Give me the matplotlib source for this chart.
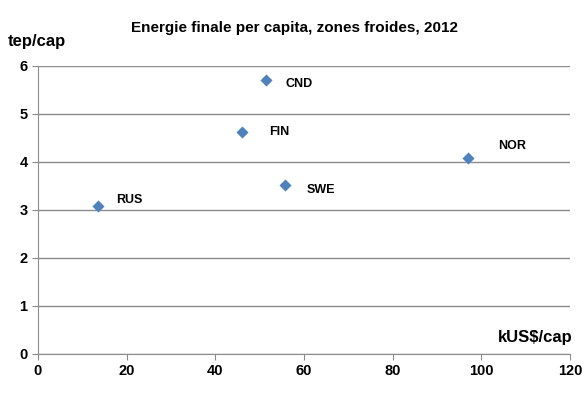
import matplotlib
matplotlib.use("Agg")
import matplotlib.pyplot as plt

plt.rcParams['font.family'] = ['Liberation Sans Narrow', 'Liberation Sans', 'DejaVu Sans']

# GDP per capita (kUS$) vs final energy per capita (tep)
countries = ["RUS", "FIN", "CND", "SWE", "NOR"]
gdp = [13.6, 46.1, 51.4, 55.7, 97.0]
energy = [3.08, 4.62, 5.71, 3.52, 4.08]

# label offsets in points (dx, dy)
label_offsets = [(13, 4), (19, 0), (14, -3), (16, -4), (22, 9)]

fig = plt.figure(figsize=(5.84, 3.99), dpi=100)
ax = fig.add_axes([0.065, 0.113, 0.911, 0.722])

ax.scatter(gdp, energy, marker="D", s=38, color="#4F81BD", zorder=3, linewidths=0)
for name, x, y, off in zip(countries, gdp, energy, label_offsets):
    ax.annotate(name, (x, y), xytext=off, textcoords="offset points",
                fontsize=9, fontweight="bold", va="center", ha="left")

ax.set_xlim(0, 120)
ax.set_ylim(0, 6)
ax.set_xticks(range(0, 121, 20))
ax.set_yticks(range(0, 7))
ax.yaxis.grid(True, color="#8c8c8c", linewidth=1)
ax.set_axisbelow(True)
for side in ["top", "right"]:
    ax.spines[side].set_visible(False)
for side in ["left", "bottom"]:
    ax.spines[side].set_color("#8c8c8c")
ax.tick_params(axis="both", colors="#8c8c8c", length=4, labelsize=10.5, labelcolor="black")
for lbl in ax.get_xticklabels() + ax.get_yticklabels():
    lbl.set_fontweight("bold")

fig.text(0.505, 0.93, "Energie finale per capita, zones froides, 2012",
         ha="center", va="center", fontsize=11, fontweight="bold")
fig.text(0.014, 0.895, "tep/cap", ha="left", va="center", fontsize=12, fontweight="bold")
fig.text(0.98, 0.153, "kUS$/cap", ha="right", va="center", fontsize=12, fontweight="bold")

fig.savefig("out.png", dpi=100)
